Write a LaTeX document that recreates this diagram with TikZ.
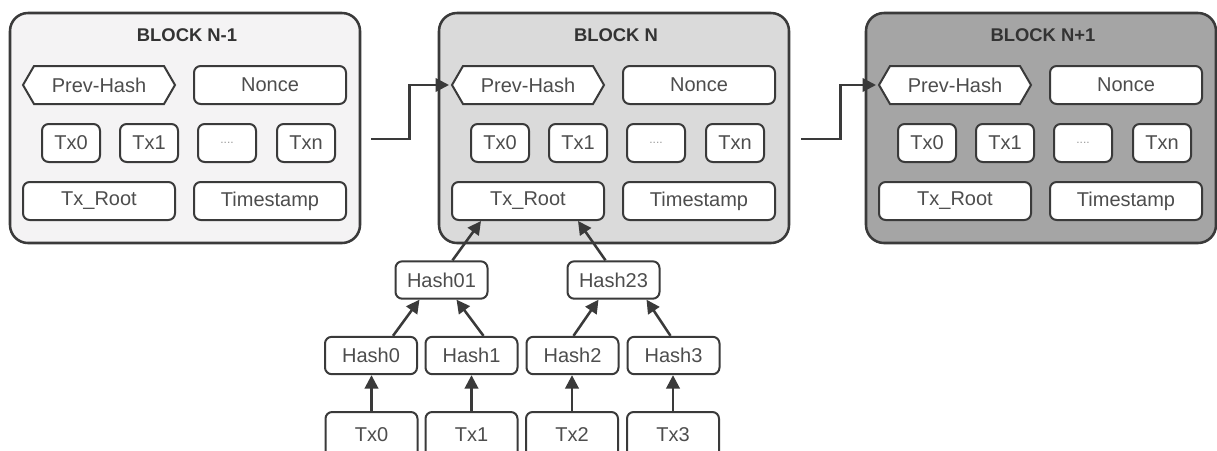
\documentclass[tikz,border=0pt]{standalone}
\usepackage{fontspec}
\setmainfont{Liberation Sans}
\usetikzlibrary{calc,arrows.meta}
\definecolor{blkA}{HTML}{F4F3F4}
\definecolor{blkB}{HTML}{DADADA}
\definecolor{blkC}{HTML}{A5A5A5}
\definecolor{edgec}{HTML}{3A3A3A}
\definecolor{txtc}{HTML}{4D4D4D}
\definecolor{ttlc}{HTML}{333333}
\tikzset{
  block/.style={draw=edgec, line width=1.9pt, rounded corners=13.5pt,
    minimum width=262.5pt, minimum height=172.5pt, inner sep=0pt},
  ttl/.style={font=\fontsize{13.8}{15}\selectfont\bfseries, text=ttlc, inner sep=0pt},
  field/.style={draw=edgec, line width=1.5pt, fill=white, rounded corners=5pt,
    minimum height=28.5pt, inner sep=0pt, font=\fontsize{15}{17}\selectfont, text=txtc},
  wide/.style={field, minimum width=114pt},
  small/.style={field, minimum width=43.5pt},
  mk/.style={field, minimum width=69pt, minimum height=28pt},
  hexbox/.style={field, draw=none, fill=none, minimum width=117pt, minimum height=31.5pt,
    path picture={
      \draw[edgec, line width=1.5pt, fill=white, sharp corners]
        ([xshift=1.5pt]path picture bounding box.west)
        -- ([xshift=9.75pt,yshift=-1.5pt]path picture bounding box.north west)
        -- ([xshift=-9.75pt,yshift=-1.5pt]path picture bounding box.north east)
        -- ([xshift=-1.5pt]path picture bounding box.east)
        -- ([xshift=-9.75pt,yshift=1.5pt]path picture bounding box.south east)
        -- ([xshift=9.75pt,yshift=1.5pt]path picture bounding box.south west)
        -- cycle;}},
  link/.style={draw=edgec, line width=1.9pt, -{Triangle[length=10pt,width=10pt]}},
}
\begin{document}
\begin{tikzpicture}[x=0.75pt,y=-0.75pt]
\useasboundingbox (0,0) rectangle (1217,450);
\fill[white] (0,0) rectangle (1217,450);
\foreach \nm/\L/\fc/\ttltext in {a/10/blkA/{BLOCK N-1},b/439/blkB/{BLOCK N},c/866/blkC/{BLOCK N+1}}{
  \node[block, fill=\fc] (\nm) at (\L+175,128) {};
  \node[ttl] (\nm-title) at (\L+177,35) {\ttltext};
  \node[hexbox] (\nm-prev) at (\L+89,85) {Prev-Hash};
  \node[wide] (\nm-nonce) at (\L+260,85) {Nonce};
  \node[small] (\nm-tx0) at (\L+61,143) {Tx0};
  \node[small] (\nm-tx1) at (\L+139,143) {Tx1};
  \node[small] (\nm-txd) at (\L+217,143) {\fontsize{9}{10}\selectfont\color{gray!80}....};
  \node[small] (\nm-txn) at (\L+296,143) {Txn};
  \node[wide] (\nm-root) at (\L+89,201) {Tx\_Root};
  \node[wide] (\nm-time) at (\L+260,201) {Timestamp};
}
\draw[link] ($(a.east)+(10,11)$) -- ++(38,0) |- (b-prev.west);
\draw[link] ($(b.east)+(11,11)$) -- ++(39,0) |- (c-prev.west);

\node[mk] (h01) at (441.5,280) {Hash01};
\node[mk] (h23) at (613.5,280) {Hash23};
\node[mk] (h0) at (371,355.5) {Hash0};
\node[mk] (h1) at (471.5,355.5) {Hash1};
\node[mk] (h2) at (572.5,355.5) {Hash2};
\node[mk] (h3) at (673.5,355.5) {Hash3};
\node[mk, minimum height=34.5pt] (t0) at (371.5,435) {Tx0};
\node[mk, minimum height=34.5pt] (t1) at (471.5,435) {Tx1};
\node[mk, minimum height=34.5pt] (t2) at (572,435) {Tx2};
\node[mk, minimum height=34.5pt] (t3) at (673,435) {Tx3};

\foreach \i in {0,1,2,3}{
  \draw[link] (t\i.north) -- (t\i.north |- h\i.south);
}
\draw[link] ($(h0.north)+(22,0)$) -- ($(h01.south)+(-22,0)$);
\draw[link] ($(h1.north)+(12,0)$) -- ($(h01.south)+(15,0)$);
\draw[link] ($(h2.north)+(1,0)$) -- ($(h23.south)+(-15,0)$);
\draw[link] ($(h3.north)+(-3,0)$) -- ($(h23.south)+(33,0)$);
\draw[link] ($(h01.north)+(11,0)$) -- ($(b-root.south)+(-47,0)$);
\draw[link] ($(h23.north)+(-8,0)$) -- ($(b-root.south)+(50,0)$);
\end{tikzpicture}
\end{document}
